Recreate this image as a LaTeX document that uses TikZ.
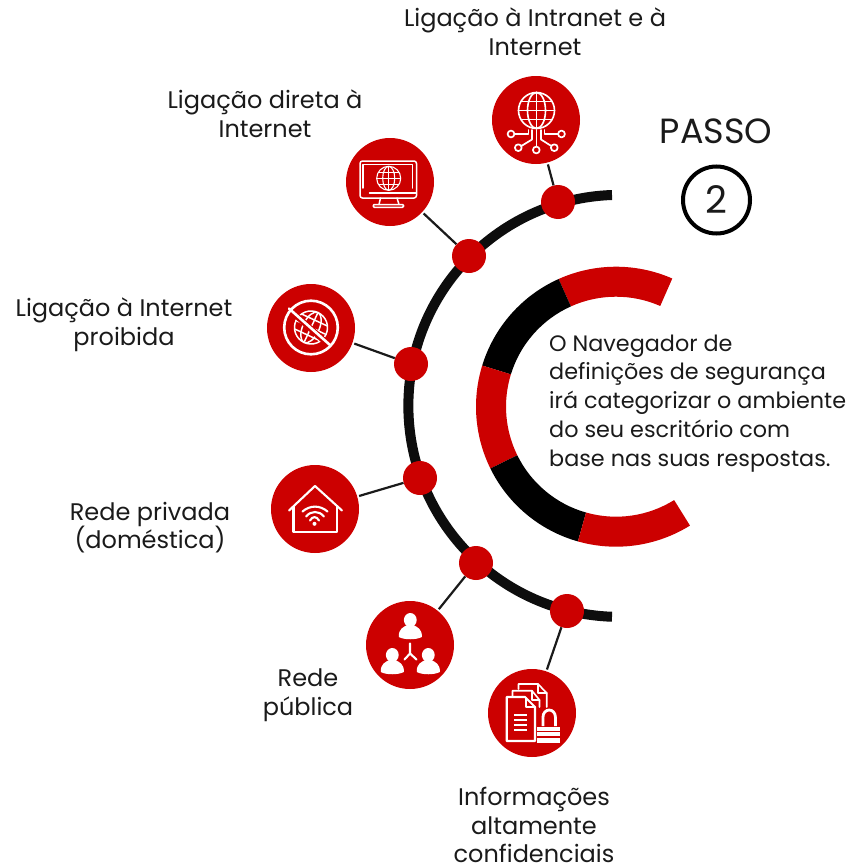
\documentclass[tikz,border=0pt]{standalone}
\usepackage{fontspec}
\setmainfont{Poppins}
\usetikzlibrary{calc}
\definecolor{brandred}{HTML}{CC0000}
\definecolor{arcblack}{HTML}{0D0D0D}
\definecolor{txt}{HTML}{1A1A1A}
\tikzset{
  x=1pt,y=-1pt,
  dot/.style={circle,fill=brandred,minimum size=34pt,inner sep=0pt},
  badge/.style={circle,fill=brandred,minimum size=88pt,inner sep=0pt},
  link/.style={draw=txt,line width=2.2pt},
  label/.style={font=\fontsize{24}{28.7}\selectfont,text=txt,align=center,inner sep=0pt},
  body/.style={font=\fontsize{22.3}{28.7}\selectfont,text=txt,align=left,inner sep=0pt,anchor=north west},
  ico/.style={draw=white,line width=1.6pt,fill=none,line cap=round,line join=round},
}
\newcommand{\seg}[3]{\fill[#1] ([shift={(#2:140)}]616,406.7) arc[start angle=#2,end angle=#3,radius=140] -- ([shift={(#3:110)}]616,406.7) arc[start angle=#3,end angle=#2,radius=110] -- cycle;}
\newcommand{\globe}[3]{% x y r
  \begin{scope}[shift={(#1,#2)}]
    \draw[ico,line width=#3*0.09] (0,0) circle[radius=#3];
    \draw[ico,line width=#3*0.09] (0,0) ellipse[x radius=#3*0.5,y radius=#3];
    \draw[ico,line width=#3*0.09] (0,-#3) -- (0,#3);
    \draw[ico,line width=#3*0.09] (-#3,0) -- (#3,0);
    \draw[ico,line width=#3*0.09] (-#3*0.85,-#3*0.5) -- (#3*0.85,-#3*0.5);
    \draw[ico,line width=#3*0.09] (-#3*0.85,#3*0.5) -- (#3*0.85,#3*0.5);
  \end{scope}}
\newcommand{\person}[3]{% x y scale
  \begin{scope}[shift={(#1,#2)},scale=#3]
    \fill[white] (0,-9) ellipse[x radius=6.4,y radius=7];
    \fill[white] (-11.5,8) .. controls (-12,0) and (-7,-2) .. (-3,-4) -- (3,-4) .. controls (7,-2) and (12,0) .. (11.5,8) .. controls (6,11) and (-6,11) .. (-11.5,8) -- cycle;
  \end{scope}}
\begin{document}
\begin{tikzpicture}
\useasboundingbox (0,0) rectangle (863,867);
% big arc
\draw[arcblack,line width=10pt] (612,195) arc[start angle=-92,end angle=-268,radius=211];
% inner ring
\seg{brandred}{-66.3}{-114.2}
\seg{black}{-114.2}{-162.9}
\seg{brandred}{-162.9}{-206.2}
\seg{black}{-206.2}{-254.2}
\seg{brandred}{-254.2}{-301.9}
% dots and badges
\node[dot] (d1) at (558,202) {};
\node[dot] (d2) at (469,256) {};
\node[dot] (d3) at (411,364) {};
\node[dot] (d4) at (420,478) {};
\node[dot] (d5) at (476,563) {};
\node[dot] (d6) at (567,611) {};
\node[badge] (b1) at (536,120) {};
\node[badge] (b2) at (390,182) {};
\node[badge] (b3) at (311,328) {};
\node[badge] (b4) at (315,509) {};
\node[badge] (b5) at (410,645) {};
\node[badge] (b6) at (532,713) {};
% connectors
\draw[link] ($(b1)!46pt!(d1)$) -- (d1);
\draw[link] ($(b2)!46pt!(d2)$) -- (d2);
\draw[link] ($(b3)!46pt!(d3)$) -- (d3);
\draw[link] ($(b4)!46pt!(d4)$) -- (d4);
\draw[link] ($(b5)!46pt!(d5)$) -- (d5);
\draw[link] ($(b6)!46pt!(d6)$) -- (d6);
% icon 1: globe network
\globe{536.5}{110.5}{18}
\begin{scope}[ico,line width=1.7pt]
  \draw (511,134) circle[radius=3.4];
  \draw (561.5,134) circle[radius=3.4];
  \draw (518.3,147.7) circle[radius=3.4];
  \draw (536.3,150) circle[radius=3.4];
  \draw (554.3,147.7) circle[radius=3.4];
  \draw (514.5,134) -- (528.5,134) -- (528.5,130);
  \draw (558,134) -- (544.5,134) -- (544.5,130);
  \draw (521.3,146) -- (532,139.5) -- (532,130);
  \draw (551.3,146) -- (541,139.5) -- (541,130);
  \draw (536.4,146.5) -- (536.4,130);
\end{scope}
% icon 2: monitor with globe
\begin{scope}[ico,line width=1.5pt]
  \draw[rounded corners=2.5pt] (360,161) rectangle (416.5,198);
  \draw (362.8,188) -- (362.8,164.5) -- (412.5,164.5) -- (412.5,188);
  \draw (369.5,193) -- (416,193);
  \draw (380.5,198) -- (379,204.5);
  \draw (397,198) -- (399,204.5);
  \draw[rounded corners=1pt] (373.3,204.5) rectangle (403.5,207.3);
\end{scope}
\globe{388.7}{178.3}{12}
% icon 3: prohibited globe
\draw[ico,line width=2.6pt] (311,327.5) circle[radius=26.8];
\begin{scope}[rotate around={-25:(311,327.5)}]
\globe{311}{327.5}{16.5}
\end{scope}
\draw[brandred,line width=6pt] (295,314.5) -- (325,341.5);
\draw[ico,line width=2.6pt] (289,308.5) -- (330,345);
% icon 4: house with wifi
\begin{scope}[ico,line width=2.1pt]
  \draw (289,510.5) -- (315,486) -- (342,510.5);
  \draw (293.5,506.5) -- (293.5,531.7) -- (336.7,531.7) -- (336.7,506.5);
  \draw (302.5,511.5) .. controls (310,505) and (320,505) .. (327.5,511.5);
  \draw (306,516.5) .. controls (311,510.5) and (319,510.5) .. (324,516.5);
  \draw (310,520.5) .. controls (312.5,516) and (316.5,516) .. (319,520.5);
\end{scope}
\fill[white] (314.5,523.8) circle[radius=2];
% icon 5: people
\person{410.3}{629}{1}
\person{392.3}{664}{1}
\person{428.3}{664}{1}
\begin{scope}[ico,line width=2.1pt]
  \draw (410,643.5) -- (410,653.5) -- (404.5,659.5);
  \draw (410,653.5) -- (416.5,659.5);
\end{scope}
% icon 6: documents + padlock
\begin{scope}[ico,line width=1.6pt]
  \draw (518.5,689) -- (518.5,684) -- (538,684) -- (546.7,693) -- (546.7,707);
  \draw (538,684) -- (538,693) -- (546.7,693);
  \draw (512.5,696) -- (512.5,690.7) -- (532,690.7) -- (539.5,700) -- (539.5,707);
  \draw (532,690.7) -- (532,700) -- (539.5,700);
\end{scope}
\begin{scope}[ico,line width=2.1pt]
  \draw (506.7,697) -- (525,697) -- (535,707) -- (535,741) -- (506.7,741) -- cycle;
  \draw (526,698) -- (526,707) -- (534.5,707);
\end{scope}
\foreach \yy in {715,720,725,730} \draw[white,line width=1.6pt] (514,\yy) -- (527,\yy);
\draw[draw=white,line width=2.8pt] (543,726) -- (543,717) arc[start angle=180,end angle=360,x radius=6.2,y radius=7] -- (555.4,726);
\fill[white] (537.3,726.5) rectangle (560,742.7);
\draw[brandred,line width=1.1pt] (537.3,731.5) -- (560,731.5) (537.3,737) -- (560,737);
% labels
\node[label] (t1) at (535,31.5) {Ligação à Intranet e à\\Internet};
\node[label] (t2) at (265,114) {Ligação direta à\\Internet};
\node[label] (t3) at (124,324.5) {Ligação à Internet\\proibida};
\node[label] (t4) at (150,527.5) {Rede privada\\(doméstica)};
\node[label] (t5) at (308,695.5) {Rede\\pública};
\node[label] (t6) at (534,825) {Informações\\altamente\\confidenciais};
\node[body] (body) at (549,334.5) {O Navegador de\\definições de segurança\\irá categorizar o ambiente\\do seu escritório com\\base nas suas respostas.};
\node[font=\fontsize{35}{40}\selectfont,text=txt,inner sep=0pt] (passo) at (716,131) {PASSO};
\node[circle,draw=black,line width=4pt,minimum size=67pt,inner sep=0pt,font=\fontsize{38}{40}\selectfont,text=txt] (two) at (716.5,200) {2};
\end{tikzpicture}
\end{document}
